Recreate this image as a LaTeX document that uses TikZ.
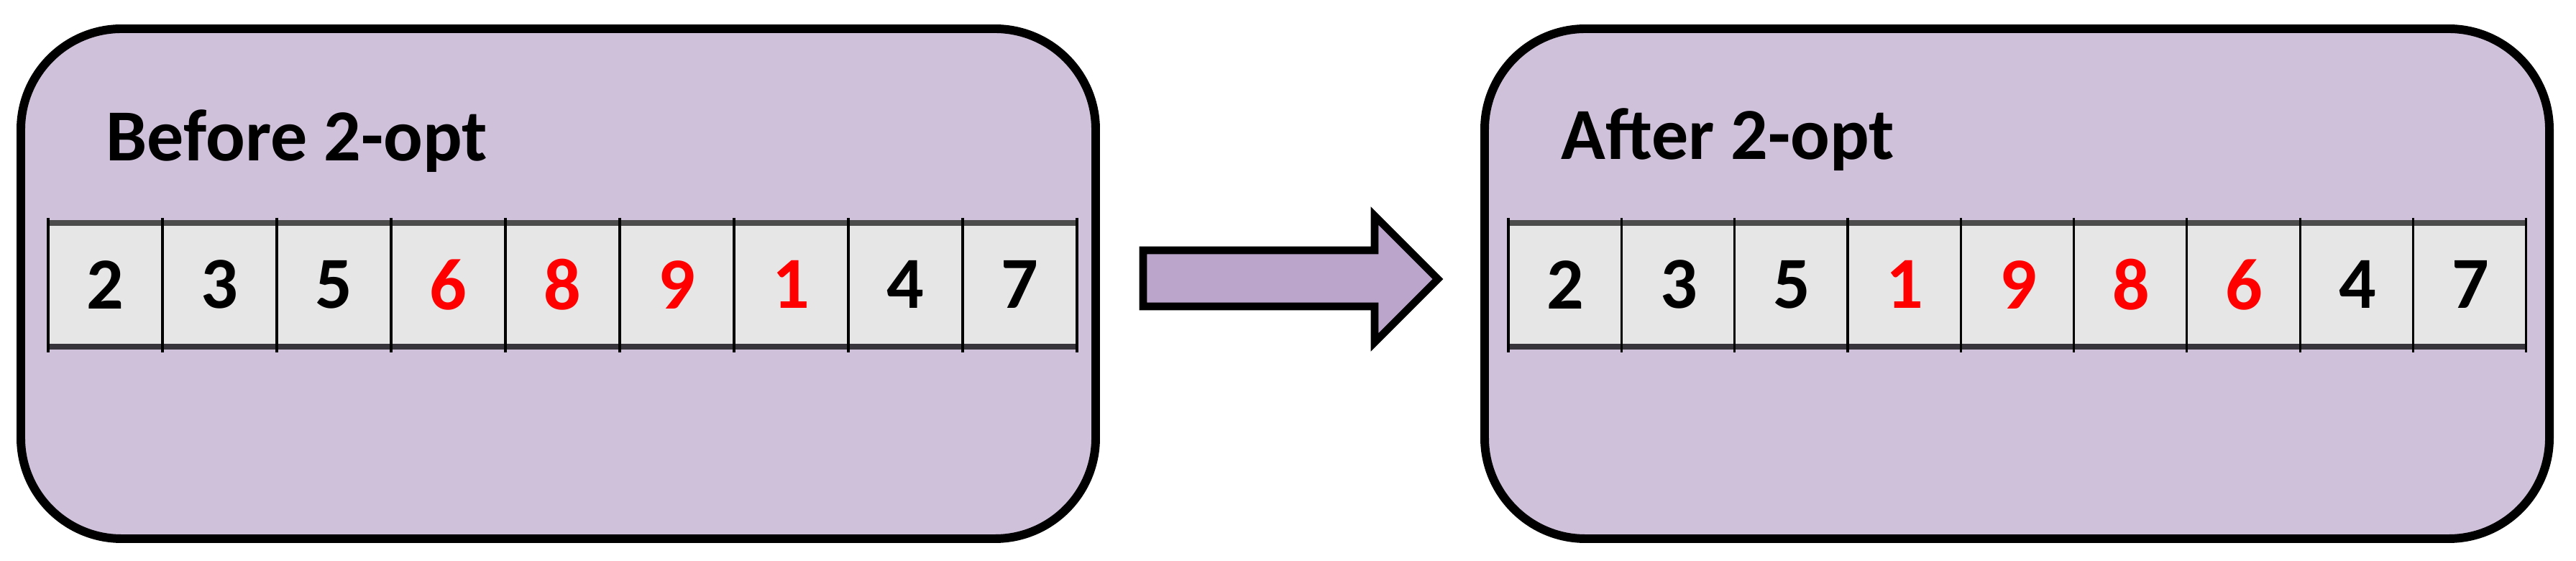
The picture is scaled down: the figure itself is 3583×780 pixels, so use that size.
\documentclass[tikz,border=0pt]{standalone}
\usepackage{fontspec}
\setmainfont{Carlito}
\begin{document}
\begin{tikzpicture}[x=0.01cm,y=-0.01cm,
  panel/.style={draw=black,line width=3.4pt,fill=boxfill,rounded corners=1.4cm},
  cell/.style={fill=cellfill,draw=none,minimum width=1.58cm,minimum height=1.7cm,inner sep=0pt,anchor=north west,font=\fontsize{29}{30}\selectfont\bfseries},
  title/.style={anchor=base west,inner sep=0pt,font=\fontsize{29}{30}\selectfont\bfseries},
  hot/.style={text=red}]
\definecolor{boxfill}{HTML}{CFC1DA}
\definecolor{cellfill}{HTML}{E6E6E6}
\definecolor{arrowfill}{HTML}{BBA5CA}
\useasboundingbox (0,0) rectangle (3583,780);
\draw[panel] (29,40) rectangle (1524,749);
\draw[panel] (2065,40) rectangle (3546,749);
\node[title] (t1) at (147,224) {Before 2-opt};
\node[title] (t2) at (2171,222) {After 2-opt};
% left table
\foreach \v/\s [count=\i from 0] in {2/,3/,5/,6/hot,8/hot,9/hot,1/hot,4/,7/}{
  \node[cell,\s] (L\i) at (67+\i*159,310) {\v};
}
\draw[line width=2pt,gray!60!black] (67,310) -- (1498,310);
\draw[line width=2pt,black!55!boxfill!60!black] (67,482) -- (1498,482);
\foreach \i in {0,...,9}{\draw[line width=0.9pt] (67+\i*159,303) -- (67+\i*159,490);}
% right table
\foreach \v/\s [count=\i from 0] in {2/,3/,5/,1/hot,9/hot,8/hot,6/hot,4/,7/}{
  \node[cell,\s] (R\i) at (2098+\i*157.3,310) {\v};
}
\draw[line width=2pt,gray!60!black] (2098,310) -- (3514,310);
\draw[line width=2pt,black!55!boxfill!60!black] (2098,482) -- (3514,482);
\foreach \i in {0,...,9}{\draw[line width=0.9pt] (2098+\i*157.3,303) -- (2098+\i*157.3,490);}
% arrow
\draw[line width=3pt,fill=arrowfill,line join=miter]
  (1590,348) -- (1912,348) -- (1912,300) -- (2000,388) -- (1912,476) -- (1912,426) -- (1590,426) -- cycle;
\end{tikzpicture}
\end{document}
